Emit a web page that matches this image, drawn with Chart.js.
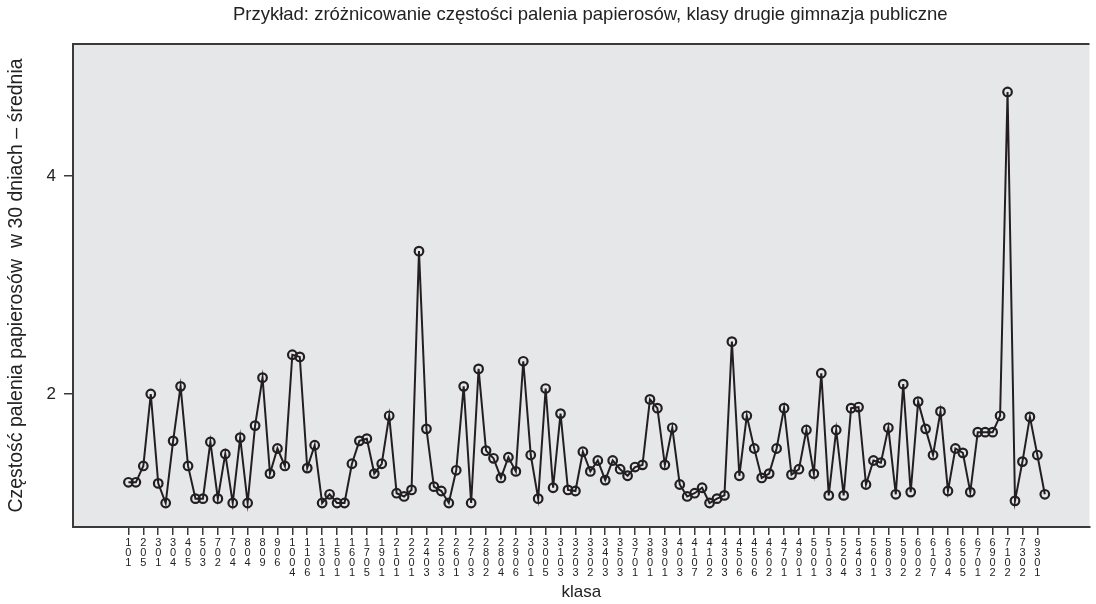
<!DOCTYPE html>
<html>
<head>
<meta charset="utf-8">
<script src="https://cdn.jsdelivr.net/npm/chart.js@4"></script>
<style>
  html, body { margin: 0; padding: 0; background: #fff; }
</style>
</head>
<body>
<canvas id="wykres" width="1096" height="604"></canvas>
<script>
// etykiety osi X (co druga klasa jest podpisana)
const klasy = [
  "101", "205", "301", "304", "405", "503", "702", "704", "804", "809", "906", "1004", "1106", "1301", "1501",
  "1601", "1705", "1901", "2101", "2201", "2403", "2503", "2601", "2703", "2802", "2804", "2906", "3001", "3005", "3103", "3203",
  "3302", "3403", "3503", "3701", "3801", "3901", "4003", "4107", "4102", "4303", "4506", "4506", "4602", "4701", "4901", "5001",
  "5103", "5204", "5403", "5601", "5803", "5902", "6002", "6107", "6304", "6505", "6701", "6902", "7102", "7302", "9301"
];

// średnia częstość palenia w każdej klasie
const srednie = [
  1.19, 1.19, 1.34, 2.00, 1.18, 1.00, 1.57, 2.07, 1.34, 1.04,
  1.04, 1.56, 1.04, 1.45, 1.00, 1.60, 1.00, 1.71, 2.15, 1.27,
  1.50, 1.34, 2.36, 2.34, 1.32, 1.53, 1.00, 1.08, 1.00, 1.00,
  1.36, 1.57, 1.59, 1.27, 1.36, 1.80, 1.09, 1.06, 1.12, 3.31,
  1.68, 1.15, 1.11, 1.00, 1.30, 2.07, 1.00, 2.23, 1.48, 1.41,
  1.23, 1.42, 1.29, 2.30, 1.44, 1.04, 2.05, 1.14, 1.82, 1.12,
  1.11, 1.47, 1.29, 1.39, 1.21, 1.39, 1.31, 1.25, 1.33, 1.35,
  1.95, 1.87, 1.35, 1.69, 1.17, 1.06, 1.09, 1.14, 1.00, 1.04,
  1.07, 2.48, 1.25, 1.80, 1.50, 1.23, 1.27, 1.50, 1.87, 1.26,
  1.31, 1.67, 1.27, 2.19, 1.07, 1.67, 1.07, 1.87, 1.88, 1.17,
  1.39, 1.37, 1.69, 1.08, 2.09, 1.10, 1.93, 1.68, 1.44, 1.84,
  1.11, 1.50, 1.46, 1.10, 1.65, 1.65, 1.65, 1.80, 4.77, 1.02,
  1.38, 1.79, 1.44, 1.08
];

const ticksY = [2, 4];

const tytul = "Przykład: zróżnicowanie częstości palenia papierosów, klasy drugie gimnazja publiczne";
const tloWykresu = "#e6e7e8";
const ciemny = "#231f20";
const krój = '"Liberation Sans", Arial, sans-serif';

const tlo = {
  id: "tlo",
  beforeDraw(chart) {
    const { ctx, chartArea: a } = chart;
    ctx.save();
    ctx.fillStyle = tloWykresu;
    ctx.fillRect(a.left, a.top, a.right - a.left, a.bottom - a.top);
    ctx.strokeStyle = "#3a3a3a";
    ctx.lineWidth = 2;
    ctx.beginPath();
    ctx.moveTo(a.left, a.top);
    ctx.lineTo(a.right, a.top);
    ctx.stroke();
    ctx.restore();
  },
  afterDraw(chart) {
    const { ctx, chartArea: a } = chart;
    ctx.save();
    ctx.fillStyle = "#222";
    ctx.font = "18.5px " + krój;
    ctx.textAlign = "center";
    ctx.textBaseline = "middle";
    ctx.fillText(tytul, (a.left + a.right) / 2 + 9, 15);
    ctx.restore();
  }
};

new Chart(document.getElementById("wykres"), {
  type: "line",
  data: {
    datasets: [
      {
        data: srednie.map((v, i) => ({ x: i, y: v })),
        borderColor: ciemny,
        borderWidth: 2,
        tension: 0,
        pointRadius: 4.3,
        pointBorderWidth: 2.2,
        pointBorderColor: ciemny,
        pointBackgroundColor: "rgba(0,0,0,0)",
      },
    ],
  },
  options: {
    responsive: false,
    animation: false,
    layout: { padding: { top: 44, right: 2, left: 0, bottom: 0 } },
    plugins: {
      legend: { display: false },
      tooltip: { enabled: false },
    },
    scales: {
      x: {
        type: "linear",
        min: -7.44,
        max: 129,
        afterFit: (s) => { s.height = 77; },
        afterBuildTicks: (s) => { s.ticks = klasy.map((_, i) => ({ value: i * 2 })); },
        border: { display: true, color: "#3a3a3a", width: 2 },
        grid: { drawOnChartArea: false, drawTicks: true, tickLength: 8, color: "#3a3a3a", lineWidth: 1.5 },
        ticks: {
          autoSkip: false,
          maxRotation: 0,
          minRotation: 0,
          padding: 3,
          color: "#222",
          font: { family: krój, size: 11, lineHeight: 10 / 11 },
          callback: (value) => (klasy[value / 2] || "").split(""),
        },
        title: {
          display: true,
          text: "klasa",
          color: "#222",
          font: { family: krój, size: 17 },
          padding: { top: 0, bottom: 1 },
        },
      },
      y: {
        min: 0.78,
        max: 5.21,
        afterFit: (s) => { s.width = 73; },
        afterBuildTicks: (s) => { s.ticks = ticksY.map((v) => ({ value: v })); },
        border: { display: true, color: "#3a3a3a", width: 2 },
        grid: { drawOnChartArea: false, drawTicks: true, tickLength: 9, color: "#3a3a3a", lineWidth: 1.5 },
        ticks: {
          padding: 8,
          color: "#222",
          font: { family: krój, size: 17 },
        },
        title: {
          display: true,
          text: "Częstość palenia papierosów  w 30 dniach – średnia",
          color: "#222",
          font: { family: krój, size: 19.5 },
          padding: { top: 5, bottom: 0 },
        },
      },
    },
  },
  plugins: [tlo],
});
</script>
</body>
</html>
